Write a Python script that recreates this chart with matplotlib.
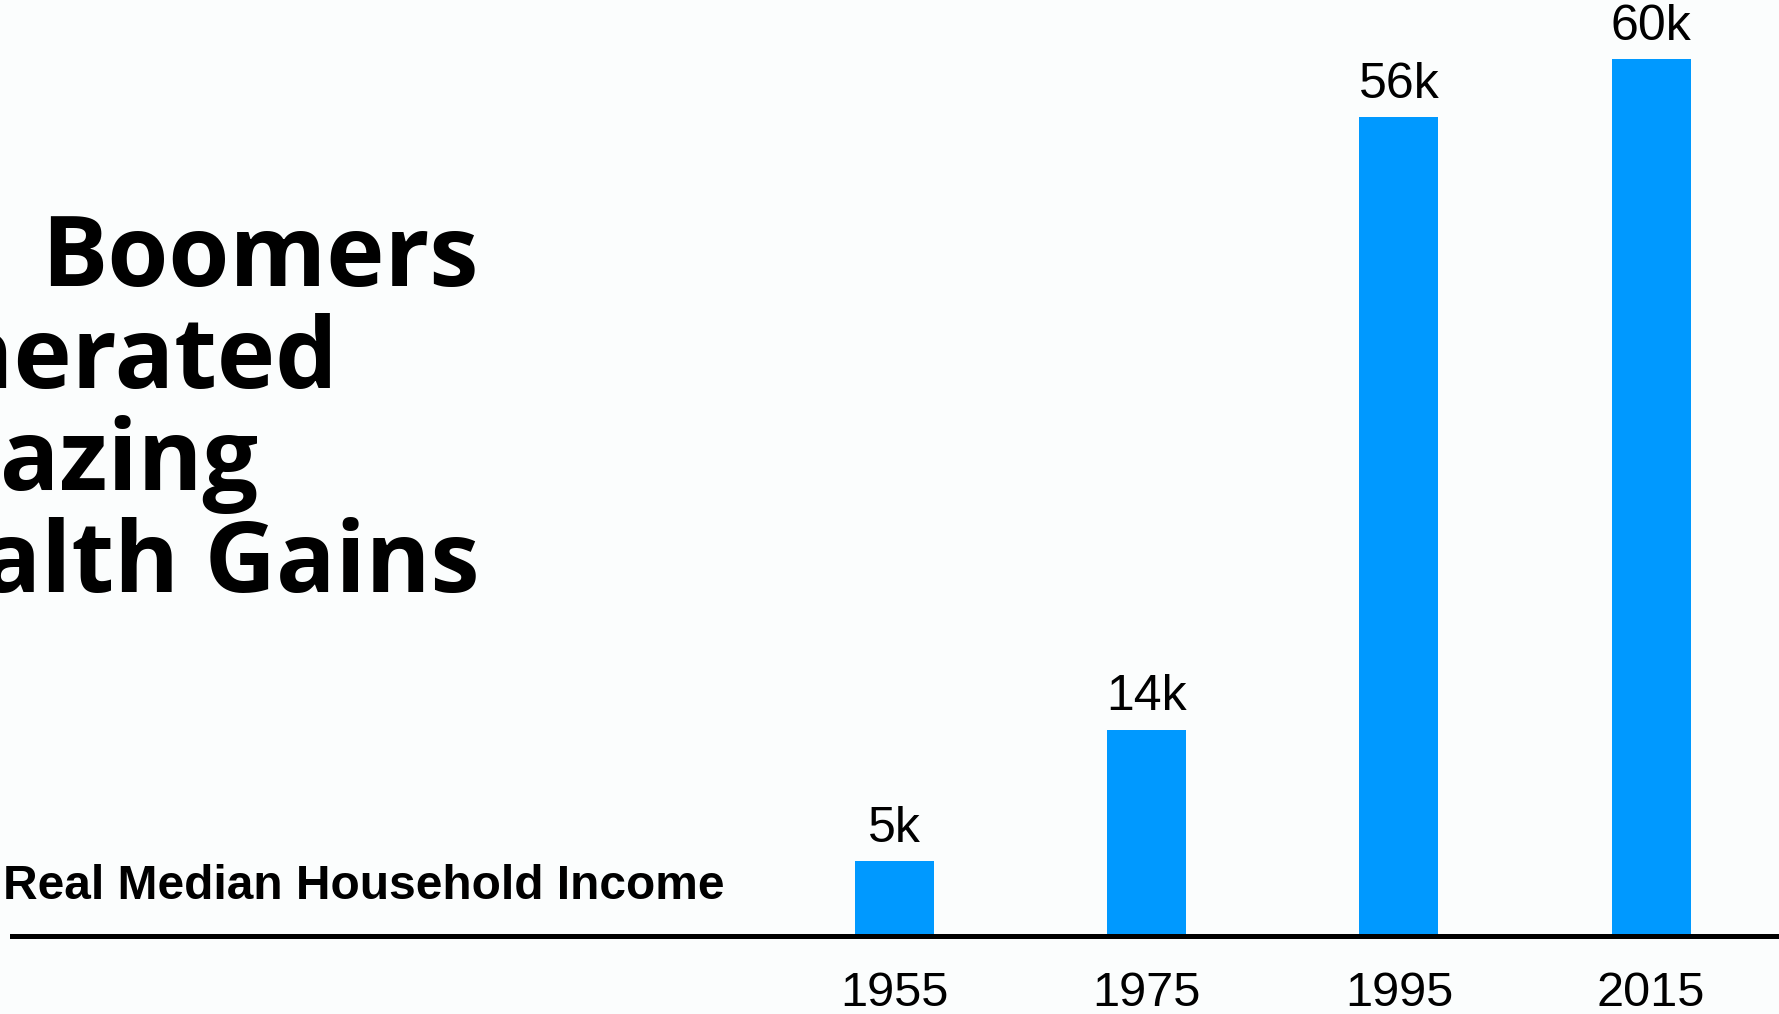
import matplotlib.pyplot as plt

# data
years = ["1955", "1975", "1995", "2015"]
income_k = [5, 14, 56, 60]
value_labels = ["5k", "14k", "56k", "60k"]
title_lines = ["Boomers", "Generated", "Amazing", "Wealth Gains"]
subtitle = "Real Median Household Income"

BG = "#fbfdfd"
BLUE = "#0099ff"
W, H = 1779, 1014

fig = plt.figure(figsize=(W / 100, H / 100), dpi=100, facecolor=BG)
ax = fig.add_axes([0, 0, 1, 1])
ax.set_facecolor(BG)

x = list(range(len(years)))
ax.bar(x, income_k, width=0.313, color=BLUE, zorder=2)

# map data to pixel layout
ax.set_xlim(-3.547, 3.507)
ax.set_ylim(-5.486, 64.05)
ax.axis("off")

# baseline rule
ax.axhline(-0.17, xmin=12 / W, xmax=1, color="black", lw=3.6, zorder=3)

for xi, v, lab in zip(x, income_k, value_labels):
    ax.annotate(lab, (xi, v), xytext=(0, 14), textcoords="offset points",
                ha="center", va="baseline", fontsize=36,
                family="Liberation Sans", color="black")

for xi, yr in zip(x, years):
    ax.text(xi, -4.05, yr, ha="center", va="center", fontsize=35,
            family="Liberation Sans", color="black")

fig.text(3 / W, 115 / H, subtitle, ha="left", va="baseline", fontsize=34.5,
         family="Liberation Sans", fontweight="bold", color="black")

# big title, partly cut by the left edge (right ends as in the reference)
right_px = [478, 338, 258, 480]
for i, (line, rx) in enumerate(zip(title_lines, right_px)):
    fig.text(rx / W, (H - 286 - i * 102) / H, line, ha="right", va="baseline",
             fontsize=71, family="Open Sans", fontweight="bold", color="black")

fig.savefig("out.png", dpi=100, facecolor=BG)
